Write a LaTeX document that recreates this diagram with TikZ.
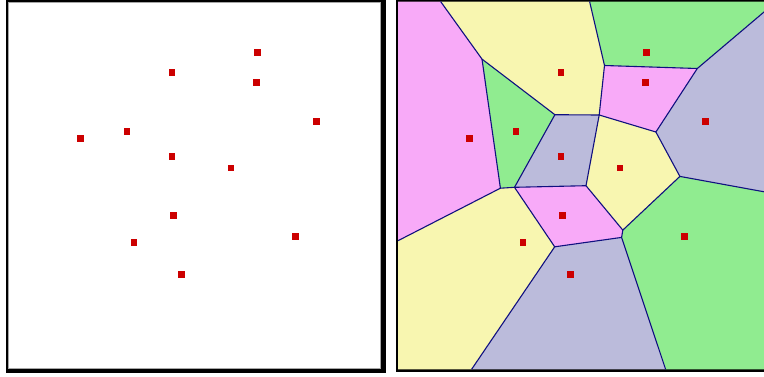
\documentclass[tikz,border=0pt]{standalone}
\begin{document}
\begin{tikzpicture}[x=1pt,y=-1pt,
  site/.style={fill=siteRed,draw=none,minimum size=6.8pt,inner sep=0pt,outer sep=0pt,rectangle},
  edge/.style={draw=edgeBlue,line width=1.1pt,line join=round},
  cpink/.style={fill=cellPink},
  cyellow/.style={fill=cellYellow},
  cgreen/.style={fill=cellGreen},
  clav/.style={fill=cellLav}]
\definecolor{siteRed}{RGB}{204,0,0}
\definecolor{edgeBlue}{RGB}{16,16,128}
\definecolor{cellPink}{RGB}{248,170,248}
\definecolor{cellYellow}{RGB}{248,246,176}
\definecolor{cellGreen}{RGB}{144,236,144}
\definecolor{cellLav}{RGB}{187,187,219}
\useasboundingbox (0,0) rectangle (764,376);
\fill[white] (0,0) rectangle (764,376);
\clip (0,0) rectangle (764,376);
% ---------- left panel ----------
\fill[black] (5.5,-2) rectangle (385.5,372.5);
\fill[white] (8,1.5) rectangle (381,369);
\draw[gray!70,line width=0.8pt] (8.4,1.9) rectangle (380.6,368.6);
\foreach \n/\x/\y in {1/257.7/52.7,2/172/72.7,3/256.3/82.3,4/316.7/121.7,5/127/131.7,6/80.7/138.3,7/172/156.7,8/231/168,9/173.3/215.7,10/295.7/236.7,11/134/242.7,12/181.7/274.7}
  \node[site] (l\n) at (\x,\y) {};
% ---------- right panel ----------
\fill[black] (396,-2) rectangle (800,372);
\begin{scope}
\clip (398,1.5) rectangle (800,369.3);
\coordinate (TL) at (398,1.5);
\coordinate (TR) at (780,1.5);
\coordinate (BL) at (398,369.3);
\coordinate (BR) at (780,369.3);
\coordinate (A) at (440.6,1.5);
\coordinate (B) at (589.6,1.5);
\coordinate (C) at (776.4,1.5);
\coordinate (D) at (780,194.7);
\coordinate (E) at (665.6,369.3);
\coordinate (F) at (471.6,369.3);
\coordinate (G) at (398,240.7);
\coordinate (V1) at (482.0,59.1);
\coordinate (V2) at (604.5,65.5);
\coordinate (V3) at (697.3,68.5);
\coordinate (V4) at (554.9,114.7);
\coordinate (V5) at (599.2,115.0);
\coordinate (V6) at (655.9,132.0);
\coordinate (V7) at (679.9,176.4);
\coordinate (V8) at (500.4,188.2);
\coordinate (V9) at (514.5,187.3);
\coordinate (V10) at (586.0,185.7);
\coordinate (V11) at (554.7,246.8);
\coordinate (V12a) at (622.8,230.1);
\coordinate (V12b) at (621.6,237.4);
% cells
\fill[cgreen] (B) -- (C) -- (V3) -- (V2) -- cycle;
\fill[cyellow] (A) -- (B) -- (V2) -- (V5) -- (V4) -- (V1) -- cycle;
\fill[cpink] (V2) -- (V3) -- (V6) -- (V5) -- cycle;
\fill[clav] (C) -- (TR) -- (D) -- (V7) -- (V6) -- (V3) -- cycle;
\fill[cgreen] (V1) -- (V4) -- (V9) -- (V8) -- cycle;
\fill[cpink] (TL) -- (A) -- (V1) -- (V8) -- (G) -- cycle;
\fill[clav] (V4) -- (V5) -- (V10) -- (V9) -- cycle;
\fill[cyellow] (V5) -- (V6) -- (V7) -- (V12a) -- (V10) -- cycle;
\fill[cpink] (V9) -- (V10) -- (V12a) -- (V12b) -- (V11) -- cycle;
\fill[cgreen] (V7) -- (D) -- (BR) -- (E) -- (V12b) -- (V12a) -- cycle;
\fill[cyellow] (G) -- (V8) -- (V9) -- (V11) -- (F) -- (BL) -- cycle;
\fill[clav] (V11) -- (V12b) -- (E) -- (F) -- cycle;
% edges
\draw[edge] (A) -- (V1) -- (V4) -- (V5) -- (V2) -- (B);
\draw[edge] (V2) -- (V3) -- (C);
\draw[edge] (V3) -- (V6) -- (V5);
\draw[edge] (V6) -- (V7) -- (D);
\draw[edge] (V1) -- (V8) -- (G);
\draw[edge] (V8) -- (V9) -- (V4);
\draw[edge] (V5) -- (V10) -- (V9) -- (V11) -- (F);
\draw[edge] (V10) -- (V12a) -- (V7);
\draw[edge] (V12a) -- (V12b) -- (E);
\draw[edge] (V12b) -- (V11);
\end{scope}
\foreach \n/\x/\y in {1/646.7/52.7,2/561/72.7,3/645.3/82.3,4/705.7/121.7,5/516/131.7,6/469.7/138.3,7/561/156.7,8/620/168,9/562.3/215.7,10/684.7/236.7,11/523/242.7,12/570.7/274.7}
  \node[site] (r\n) at (\x,\y) {};
\end{tikzpicture}
\end{document}
